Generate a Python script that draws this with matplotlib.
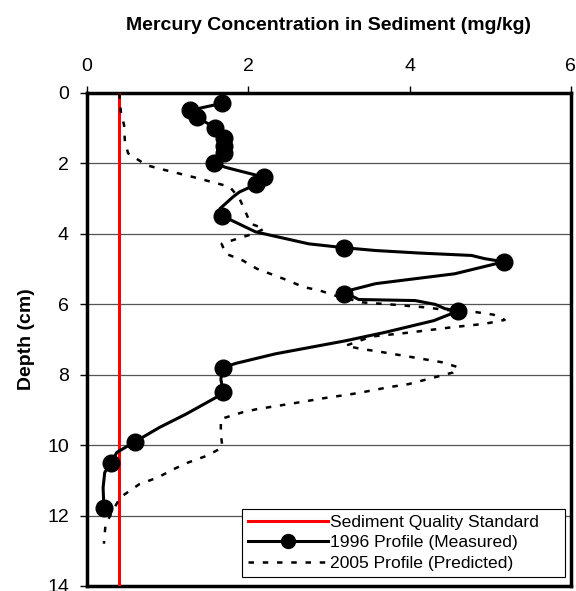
import matplotlib
matplotlib.use("Agg")
import matplotlib.pyplot as plt

plt.rcParams['font.family'] = ['Liberation Sans', 'DejaVu Sans']

# sediment quality standard (mg/kg)
standard = 0.4

# 1996 measured profile: depth (cm), mercury (mg/kg)
depth_96 = [0.3, 0.5, 0.7, 1.0, 1.3, 1.5, 1.7, 2.0, 2.4, 2.6, 3.5, 4.4, 4.8,
            5.7, 6.2, 7.8, 8.5, 9.9, 10.5, 11.8]
hg_96 = [1.68, 1.28, 1.37, 1.59, 1.70, 1.70, 1.70, 1.58, 2.20, 2.10, 1.68,
         3.19, 5.17, 3.19, 4.60, 1.69, 1.69, 0.60, 0.30, 0.21]

# trace of the smoothed 1996 curve
line_depth_96 = [0.3, 0.5, 0.7, 1.0, 1.3, 1.5, 1.7, 2.0, 2.12, 2.22, 2.4, 2.6,
                 2.82, 2.96, 3.29, 3.5, 3.62, 3.95, 4.1, 4.29, 4.4, 4.48, 4.55,
                 4.62, 4.71, 4.8, 5.14, 5.42, 5.59, 5.7, 5.8, 5.87, 5.9, 6.01,
                 6.13, 6.2, 6.47, 6.8, 7.04, 7.41, 7.68, 7.8, 8.13, 8.5, 8.65,
                 9.12, 9.5, 9.9, 10.21, 10.5, 10.78, 11.21, 11.8]
line_hg_96 = [1.68, 1.28, 1.37, 1.59, 1.70, 1.70, 1.70, 1.58, 1.72, 1.89, 2.20,
              2.10, 1.89, 1.81, 1.65, 1.68, 1.79, 2.09, 2.38, 2.75, 3.19, 3.58,
              4.11, 4.77, 4.93, 5.17, 4.56, 3.58, 3.29, 3.19, 3.31, 3.37, 4.07,
              4.32, 4.44, 4.60, 4.30, 3.70, 3.21, 2.34, 1.85, 1.69, 1.66, 1.69,
              1.60, 1.23, 0.90, 0.60, 0.37, 0.30, 0.22, 0.20, 0.21]

# 2005 predicted profile
depth_05 = [0.02, 0.54, 0.92, 1.39, 1.72, 2.06, 2.18, 2.39, 2.67, 3.0, 3.3,
            3.72, 3.86, 4.0, 4.14, 4.29, 4.57, 4.76, 5.0, 5.31, 5.52, 5.61,
            5.76, 5.95, 6.02, 6.1, 6.16, 6.23, 6.3, 6.45, 6.56, 6.66, 6.82,
            6.92, 7.18, 7.27, 7.34, 7.49, 7.65, 7.79, 7.94, 8.05, 8.27, 8.36,
            8.53, 8.67, 8.82, 8.98, 9.07, 9.26, 9.69, 10.07, 10.31, 10.5,
            10.69, 10.92, 11.11, 11.49, 12.25, 12.8]
hg_05 = [0.40, 0.42, 0.46, 0.47, 0.51, 0.74, 0.94, 1.31, 1.77, 1.89, 1.95,
         2.03, 2.20, 2.07, 1.87, 1.67, 1.72, 1.93, 2.11, 2.47, 2.69, 2.88,
         3.08, 3.41, 3.82, 4.23, 4.42, 4.83, 5.04, 5.18, 4.93, 4.52, 3.95,
         3.53, 3.21, 3.39, 3.60, 3.99, 4.40, 4.60, 4.54, 4.36, 3.99, 3.74,
         3.35, 2.94, 2.55, 2.11, 1.93, 1.66, 1.66, 1.68, 1.48, 1.25,
         1.07, 0.88, 0.65, 0.41, 0.23, 0.21]

fig = plt.figure(figsize=(5.76, 5.91), dpi=100)
ax = fig.add_axes([0.151, 0.0085, 0.840, 0.8347])

ax.axvline(standard, color='#ff0000', lw=2.2, label='Sediment Quality Standard', zorder=3)
ax.plot(line_hg_96, line_depth_96, color='black', lw=2.2, zorder=4)
ax.plot(hg_96, depth_96, 'o', color='black', ms=12, zorder=5)
ax.plot([], [], '-o', color='black', lw=2.2, ms=10, label='1996 Profile (Measured)')
ax.plot(hg_05, depth_05, color='black', lw=1.8, dashes=(2.2, 3.5),
        label='2005 Profile (Predicted)', zorder=4)

ax.set_xlim(0, 6)
ax.set_ylim(14, 0)
ax.set_xticks([0, 2, 4, 6])
ax.set_yticks(range(0, 15, 2))
ax.xaxis.tick_top()
ax.xaxis.set_label_position('top')
ax.tick_params(axis='both', labelsize=14, length=5, width=1, direction='out')
ax.tick_params(axis='x', pad=8)
ax.tick_params(axis='y', pad=8)
ax.grid(axis='y', color='#555555', lw=0.9)
for s in ax.spines.values():
    s.set_linewidth(2.5)

ax.set_xlabel('Mercury Concentration in Sediment (mg/kg)', fontsize=14,
              fontweight='bold', labelpad=20)
ax.set_ylabel('Depth (cm)', fontsize=14, fontweight='bold', labelpad=9)

leg = ax.legend(loc='lower left', bbox_to_anchor=(0.320, 0.018, 0.668, 0.15),
                mode='expand', fontsize=12.6, fancybox=False, framealpha=1,
                edgecolor='black', handlelength=4.6, handletextpad=0.1,
                borderaxespad=0, labelspacing=0.3, borderpad=0.35)
leg.get_frame().set_linewidth(0.8)

fig.savefig('out.png', dpi=100)
